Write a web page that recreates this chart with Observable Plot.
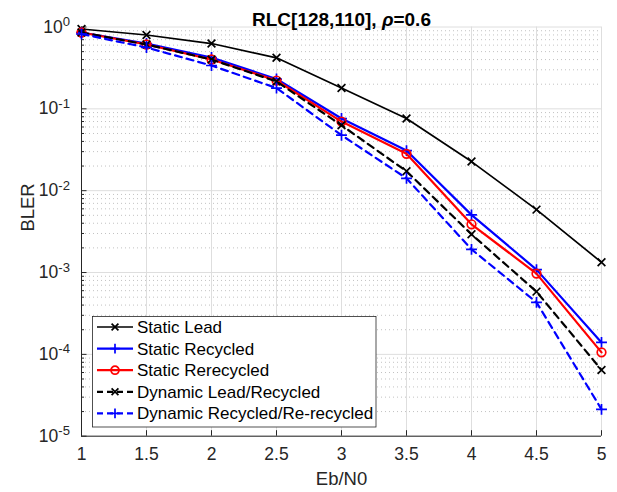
<!DOCTYPE html>
<html><head><meta charset="utf-8">
<script src="https://cdn.jsdelivr.net/npm/d3@7"></script>
<script src="https://cdn.jsdelivr.net/npm/@observablehq/plot@0.6"></script>
<style>body{margin:0;background:#fff} #chart{width:617px;height:492px}</style>
</head><body><div id="chart"></div>
<script>
// ---- data ----
const ebn0 = [1, 1.5, 2, 2.5, 3, 3.5, 4, 4.5, 5];
const staticLead        = [0.945, 0.798, 0.628, 0.420, 0.1796, 0.0761, 0.02268, 0.00587, 0.001333];
const staticRecycled    = [0.857, 0.628, 0.424, 0.2313, 0.0761, 0.0309, 0.00506, 0.001085, 0.000140];
const staticRerecycled  = [0.857, 0.611, 0.4006, 0.2218, 0.0699, 0.02818, 0.003883, 0.000970, 0.0001058];
const dynLeadRecycled   = [0.857, 0.611, 0.4006, 0.2157, 0.0630, 0.01727, 0.00293, 0.000584, 0.0000645];
const dynRecycledRerec  = [0.821, 0.5615, 0.3383, 0.1796, 0.0476, 0.01417, 0.00192, 0.000432, 0.0000213];

const seriesNames = ["Static Lead", "Static Recycled", "Static Rerecycled", "Dynamic Lead/Recycled", "Dynamic Recycled/Re-recycled"];
const seriesValues = [staticLead, staticRecycled, staticRerecycled, dynLeadRecycled, dynRecycledRerec];
const seriesColors = ["#000000", "#0000ff", "#ff0000", "#000000", "#0000ff"];
const seriesSymbols = ["times", "plus", "circle", "times", "plus"];
const seriesDash = [null, null, null, "7,5", "7,5"];
const seriesWidth = [1.7, 2.2, 2.2, 2.2, 2.2];

const xTicks = [1, 1.5, 2, 2.5, 3, 3.5, 4, 4.5, 5];
const xTickLabels = ["1", "1.5", "2", "2.5", "3", "3.5", "4", "4.5", "5"];
const yMajor = [1e-5, 1e-4, 1e-3, 1e-2, 1e-1, 1];
const yTickLabels = ["10^-5", "10^-4", "10^-3", "10^-2", "10^-1", "10^0"];
const yMinorMult = [2, 3, 4, 5, 6, 7, 8, 9];
const yMinor = yMajor.slice(0, -1).flatMap(d => yMinorMult.map(m => m * d));

const titleText = "RLC[128,110], ρ=0.6";
const xLabel = "Eb/N0";
const yLabel = "BLER";

const FONT = "'Liberation Sans', Arial, Helvetica, sans-serif";

// ---- table ----
const rows = seriesNames.flatMap((name, i) => ebn0.map((x, j) => ({series: name, idx: i, x, y: seriesValues[i][j]})));

const seriesMarks = seriesNames.flatMap((name, i) => {
  const d = rows.filter(r => r.idx === i);
  return [
    Plot.line(d, {x: "x", y: "y", stroke: seriesColors[i], strokeWidth: seriesWidth[i], strokeDasharray: seriesDash[i] || undefined}),
    Plot.dot(d, {x: "x", y: "y", symbol: seriesSymbols[i], stroke: seriesColors[i], fill: "none", strokeWidth: 1.7, r: seriesSymbols[i] === "circle" ? 4.3 : 3.6})
  ];
});

const chart = Plot.plot({
  width: 617, height: 492,
  marginLeft: 81, marginRight: 16, marginTop: 26.5, marginBottom: 56.3,
  style: {fontFamily: FONT, fontSize: "17.5px", background: "#fff", color: "#262626"},
  x: {domain: [1, 5]},
  y: {type: "log", domain: [1e-5, 1]},
  marks: [
    Plot.ruleY(yMinor, {stroke: "#c2c2c2", strokeDasharray: "1,3"}),
    Plot.ruleY(yMajor, {stroke: "#dedede"}),
    Plot.ruleX(xTicks, {stroke: "#dedede"}),
    Plot.axisY(yMinor, {tickSize: -3, fill: "none", stroke: "#262626", label: null}),
    Plot.axisY(yMajor, {tickSize: -5.5, tickPadding: 17, tickFormat: d => yTickLabels[yMajor.indexOf(d)], stroke: "#262626", fill: "#262626", label: null}),
    Plot.axisX(xTicks, {tickSize: -5.5, tickPadding: 17, tickFormat: d => xTickLabels[xTicks.indexOf(d)], stroke: "#262626", fill: "#262626", label: null}),
    Plot.ruleX([1], {stroke: "#262626"}),
    Plot.ruleY([1e-5], {stroke: "#262626"}),
    ...seriesMarks,
    Plot.text([xLabel], {frameAnchor: "bottom", dy: 49, fontSize: 18.5, fill: "#262626"}),
    Plot.text([yLabel], {frameAnchor: "left", dx: -53, rotate: -90, fontSize: 18.5, fill: "#262626"}),
    Plot.text([titleText], {frameAnchor: "top", dy: -15, fontSize: 19, fontWeight: "bold", fill: "#000"})
  ]
});
document.getElementById("chart").appendChild(chart);

const svg = d3.select(chart);
// superscript exponents
svg.selectAll('g[aria-label="y-axis tick label"] text').each(function() {
  const t = this.textContent;
  const parts = t.split("^");
  if (parts.length === 2) {
    const el = d3.select(this);
    el.text(null);
    el.append("tspan").text(parts[0]);
    el.append("tspan").attr("dy", "-0.5em").attr("font-size", "0.75em").text(parts[1]);
  }
});
// italic rho in title
svg.selectAll("text").each(function() {
  if (this.textContent === titleText) {
    const el = d3.select(this);
    const [a, b] = titleText.split("ρ");
    el.text(null);
    el.append("tspan").text(a);
    el.append("tspan").attr("font-style", "italic").text("ρ");
    el.append("tspan").text(b);
  }
});

// legend
const lg = svg.append("g").attr("font-family", FONT).attr("font-size", 17).attr("text-anchor", "start");
lg.append("rect").attr("x", 92.5).attr("y", 316.5).attr("width", 283.5).attr("height", 110.5)
  .attr("fill", "#fff").attr("stroke", "#262626").attr("stroke-width", 0.8);
const symTypes = {times: d3.symbolTimes, plus: d3.symbolPlus, circle: d3.symbolCircle};
seriesNames.forEach((name, i) => {
  const cy = 327 + i * 21.6;
  lg.append("line").attr("x1", 97).attr("x2", 133).attr("y1", cy).attr("y2", cy)
    .attr("stroke", seriesColors[i]).attr("stroke-width", seriesWidth[i]).attr("stroke-dasharray", seriesDash[i] ? "6,4" : null);
  const r = seriesSymbols[i] === "circle" ? 4.0 : 3.2;
  lg.append("path").attr("d", d3.symbol(symTypes[seriesSymbols[i]], Math.PI * r * r)())
    .attr("transform", `translate(115,${cy})`).attr("fill", "none").attr("stroke", seriesColors[i]).attr("stroke-width", 1.7);
  lg.append("text").attr("x", 137).attr("y", cy).attr("dy", "0.35em").attr("fill", "#000").attr("text-anchor", "start").text(name);
});
</script>
</body></html>
